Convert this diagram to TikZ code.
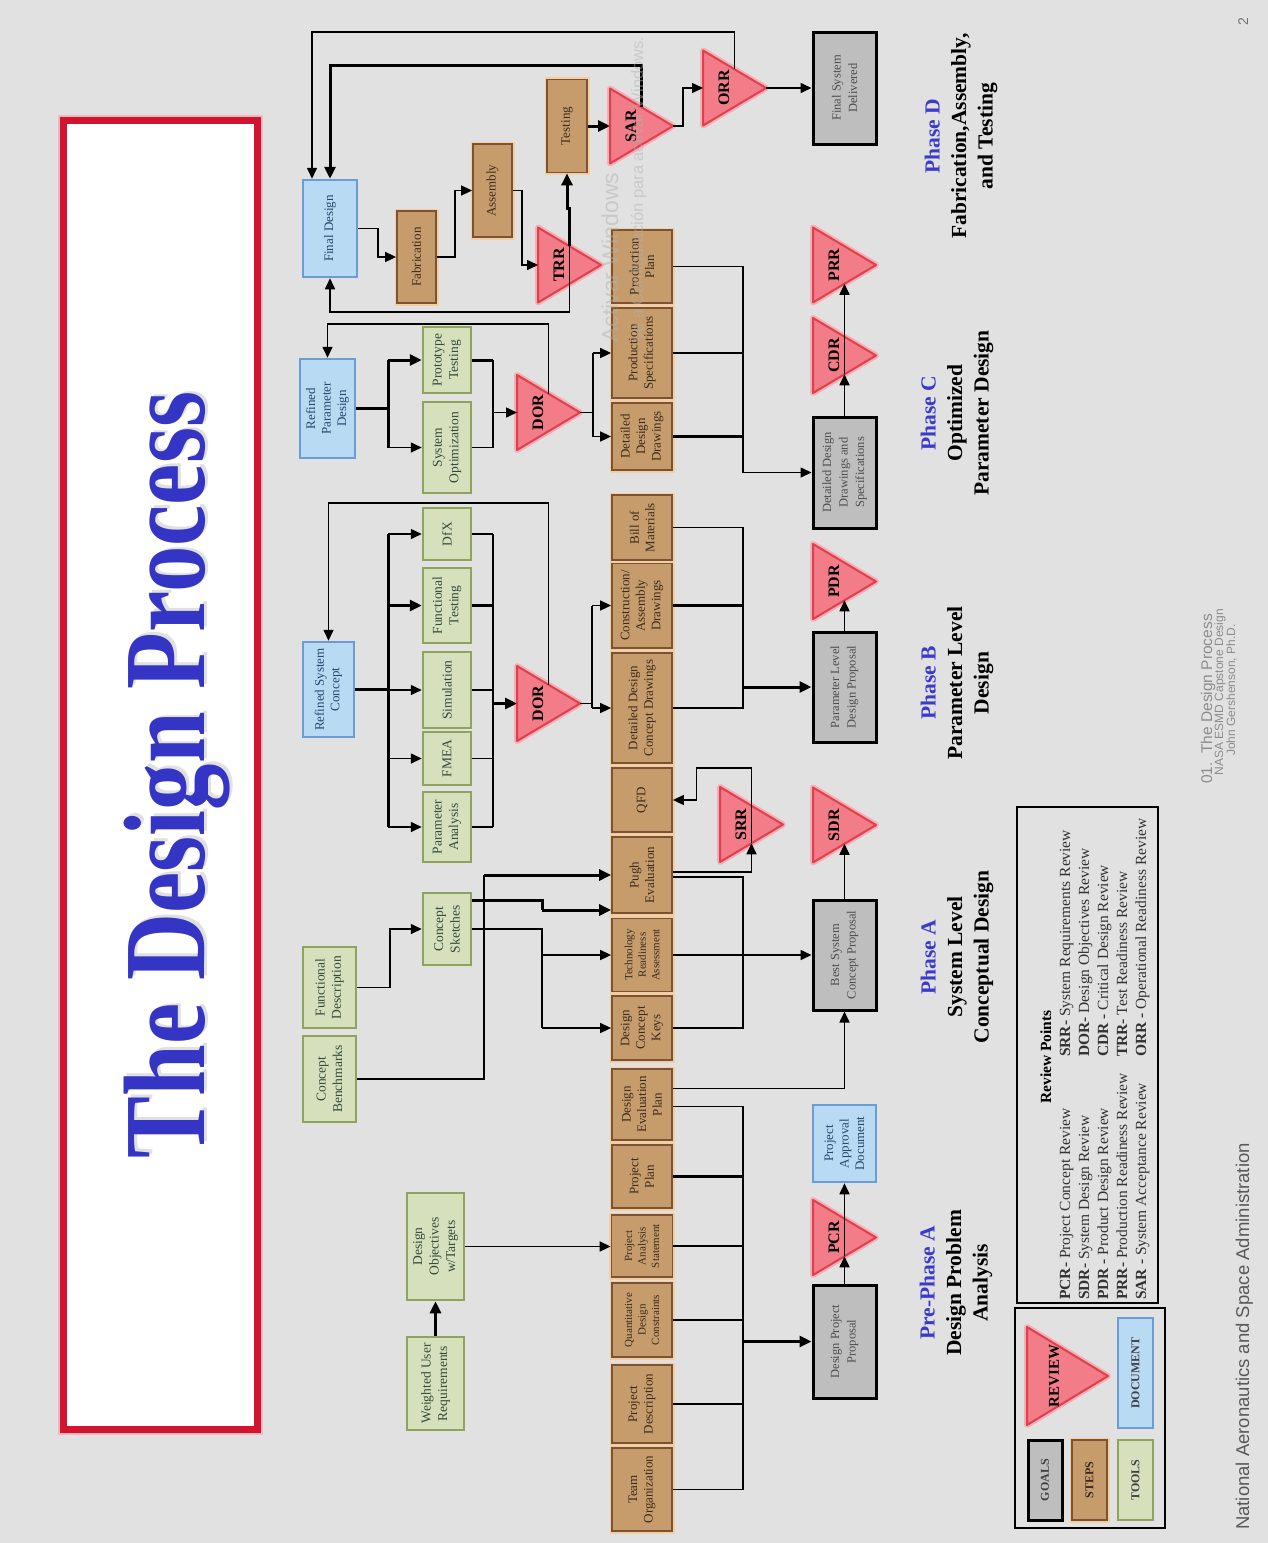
\documentclass[tikz,border=0pt]{standalone}
\usepackage{fontspec}
\setmainfont{Liberation Serif}
\newfontfamily\sansfont{Liberation Sans}
\usepackage{graphicx}
\usetikzlibrary{arrows.meta,calc}

\definecolor{bg}{HTML}{E1E1E1}
\definecolor{stepfill}{HTML}{C69C6D}
\definecolor{stepdraw}{HTML}{7B5330}
\definecolor{stepglow}{HTML}{F2CDA6}
\definecolor{steptext}{HTML}{3A2A1C}
\definecolor{toolfill}{HTML}{D6E0BD}
\definecolor{tooldraw}{HTML}{8FA35C}
\definecolor{tooltext}{HTML}{33493A}
\definecolor{docfill}{HTML}{B8DAF2}
\definecolor{docdraw}{HTML}{6A9DD3}
\definecolor{doctext}{HTML}{25476B}
\definecolor{goalfill}{HTML}{BEBEBE}
\definecolor{goaltext}{HTML}{4D4D4D}
\definecolor{revfill}{HTML}{F27C87}
\definecolor{revdraw}{HTML}{E0404E}
\definecolor{revglow}{HTML}{F7AEB5}
\definecolor{phaseblue}{HTML}{3A3ACC}
\definecolor{titleblue}{HTML}{3535C5}
\definecolor{titlered}{HTML}{D2142E}

\tikzset{
  rbox/.style={rotate=90, inner sep=1pt, align=center},
  dims/.style 2 args={minimum height=#1pt, minimum width=#2pt},
  stepbox/.style={rbox, fill=stepfill, draw=stepdraw, line width=1.8pt,
    preaction={draw=stepglow, line width=5pt}, text=steptext,
    font=\fontsize{13}{15.5}\selectfont},
  stepsmall/.style={stepbox, font=\fontsize{11}{13.5}\selectfont},
  toolbox/.style={rbox, fill=toolfill, draw=tooldraw, line width=2.5pt,
    text=tooltext, font=\fontsize{13.5}{16.5}\selectfont},
  docbox/.style={rbox, fill=docfill, draw=docdraw, line width=2.5pt,
    text=doctext, font=\fontsize{13}{15.5}\selectfont},
  goalbox/.style={rbox, fill=goalfill, draw=black, line width=3pt,
    text=goaltext, font=\fontsize{12.5}{16.5}\selectfont},
  revshape/.style={fill=revfill, draw=revdraw, line width=2pt, line join=round,
    preaction={draw=revglow, line width=6pt, line join=round}},
  revlabel/.style={rotate=90, inner sep=0pt, font=\bfseries\fontsize{16}{16}\selectfont},
  conn/.style={draw=black, line width=1.6pt},
  connw/.style={draw=black, line width=3pt},
  arr/.style={conn, -{Triangle[length=11pt,width=10pt]}},
  arrw/.style={connw, -{Triangle[length=12pt,width=11pt]}},
  phase/.style={rotate=90, align=center, inner sep=0pt,
    font=\bfseries\fontsize{21.5}{26.5}\selectfont},
  revpt/.style={rotate=90, anchor=base west, inner sep=0pt,
    font=\fontsize{15.5}{17}\selectfont, text=black!80},
  legtxt/.style={font=\bfseries\fontsize{12}{12}\selectfont},
}

% review triangle pointing right: name, base x, middle y, label
\newcommand{\reviewtri}[4]{%
  \path[revshape] ({#2},{#3-37.5}) -- ({#2+63},{#3}) -- ({#2},{#3+37.5}) -- cycle;
  \coordinate (#1-in)  at ({#2},{#3});
  \coordinate (#1-out) at ({#2+63},{#3});
  \coordinate (#1-up)  at ({#2+31.5},{#3-18.75});
  \coordinate (#1-dn)  at ({#2+31.5},{#3+18.75});
  \node[revlabel] (#1) at ({#2+21},{#3}) {#4};
}

\begin{document}
\begin{tikzpicture}[x=1pt, y=-1pt]
\useasboundingbox (0,0) rectangle (1268,1543);
\fill[bg] (0,0) rectangle (1268,1543);

% title panel
\draw[titlered, line width=7pt, fill=white,
  preaction={draw=titlered!30, line width=11pt}] (63.5,120) rectangle (257.5,1429);
\node[rotate=90, anchor=base, inner sep=0pt, text=black!40, opacity=0.3,
  font=\bfseries\fontsize{116}{116}\selectfont] (titleshadow) at (207.5,772.5)
  {\scalebox{0.8}[1]{The Design Process}};
\node[rotate=90, anchor=base, inner sep=0pt, text=titleblue,
  font=\bfseries\fontsize{116}{116}\selectfont] (title) at (204,775)
  {\scalebox{0.8}[1]{The Design Process}};

% ---------- steps ----------
\node[stepbox, dims={60}{83}]  (to)    at (642,1489.5) {Team\\Organization};
\node[stepbox, dims={60}{78}]  (pdesc) at (642,1404)   {Project\\Description};
\node[stepsmall, dims={60}{74}] (qdc)  at (642,1320)   {Quantitative\\Design\\Constraints};
\node[stepsmall, dims={61}{62}] (pas)  at (642,1246)   {Project\\Analysis\\Statement};
\node[stepbox, dims={60}{63}]  (ppl)   at (642,1176.5) {Project\\Plan};
\node[stepbox, dims={60}{71}]  (dep)   at (642,1104.5) {Design\\Evaluation\\Plan};
\node[stepbox, dims={60}{64}]  (dck)   at (642,1028)   {Design\\Concept\\Keys};
\node[stepsmall, dims={60}{73}] (tra)  at (642,955)    {Technology\\Readiness\\Assessment};
\node[stepbox, dims={60}{76}]  (pugh)  at (642,875)    {Pugh\\Evaluation};
\node[stepbox, dims={60}{64}]  (qfd)   at (642,800)    {QFD};
\node[stepbox, dims={60}{110}] (ddcd)  at (642,708)    {Detailed Design\\Concept Drawings};
\node[stepbox, dims={60}{85}]  (cad)   at (642,605.5)  {Construction/\\Assembly\\Drawings};
\node[stepbox, dims={60}{65}]  (bom)   at (642,527.5)  {Bill of\\Materials};
\node[stepbox, dims={60}{67}]  (ddd)   at (642,436.5)  {Detailed\\Design\\Drawings};
\node[stepbox, dims={60}{90}]  (ps)    at (642,353)    {Production\\Specifications};
\node[stepbox, dims={60}{73}]  (pp)    at (642,266.5)  {Production\\Plan};
\node[stepbox, dims={39}{92}]  (fab)   at (416.5,257)  {Fabrication};
\node[stepbox, dims={39}{93}]  (asm)   at (492.5,190.5) {Assembly};
\node[stepbox, dims={40}{93}]  (test)  at (567,126)    {Testing};

% ---------- tools ----------
\node[toolbox, dims={57}{93}]  (wur)   at (435.5,1383.5) {Weighted User\\Requirements};
\node[toolbox, dims={57}{107}] (dot)   at (435.5,1246.5) {Design\\Objectives\\w/Targets};
\node[toolbox, dims={53}{86}]  (cb)    at (329.5,1079)   {Concept\\Benchmarks};
\node[toolbox, dims={53}{81}]  (fdesc) at (329.5,987.5)  {Functional\\Description};
\node[toolbox, dims={48}{72}]  (cs)    at (447,929)      {Concept\\Sketches};
\node[toolbox, dims={48}{70}]  (pa)    at (447,827)      {Parameter\\Analysis};
\node[toolbox, dims={48}{53}]  (fmea)  at (447,758.5)    {FMEA};
\node[toolbox, dims={48}{76}]  (sim)   at (447,690)      {Simulation};
\node[toolbox, dims={48}{75}]  (ft)    at (447,605.5)    {Functional\\Testing};
\node[toolbox, dims={48}{52}]  (dfx)   at (447,534)      {DfX};
\node[toolbox, dims={48}{91}]  (so)    at (447,447.5)    {System\\Optimization};
\node[toolbox, dims={48}{66}]  (pt)    at (447,360)      {Prototype\\Testing};

% ---------- documents ----------
\node[docbox, dims={51}{95}] (rsc) at (328.5,689.5) {Refined System\\Concept};
\node[docbox, dims={55}{99}] (rpd) at (327.5,408.5) {Refined\\Parameter\\Design};
\node[docbox, dims={54}{97}] (fd)  at (330,228.5)   {Final Design};
\node[docbox, dims={63}{77}] (pad) at (844.5,1143.5) {Project\\Approval\\Document};

% ---------- goals ----------
\node[goalbox, dims={63}{112}] (fsd)  at (844.5,88)     {Final System\\Delivered};
\node[goalbox, dims={63}{111}] (ddds) at (844.5,472.5)  {Detailed Design\\Drawings and\\Specifications};
\node[goalbox, dims={63}{110}] (pldp) at (844.5,687)    {Parameter Level\\Design Proposal};
\node[goalbox, dims={63}{110}] (bscp) at (844.5,955)    {Best System\\Concept Proposal};
\node[goalbox, dims={63}{113}] (dpp)  at (844.5,1341.5) {Design Project\\Proposal};

% ---------- reviews ----------
\reviewtri{orr}{703}{88}{ORR}
\reviewtri{sar}{610}{126}{SAR}
\reviewtri{trr}{538}{265}{TRR}
\reviewtri{dorc}{517}{412.5}{DOR}
\reviewtri{dorb}{517}{703.5}{DOR}
\reviewtri{srr}{720}{824.5}{SRR}
\reviewtri{prr}{813}{265}{PRR}
\reviewtri{cdr}{813}{355.5}{CDR}
\reviewtri{pdr}{813}{581.5}{PDR}
\reviewtri{sdr}{813}{825}{SDR}
\reviewtri{pcr}{813}{1237.5}{PCR}

% bus lines and junction columns
\coordinate (bus) at (743,0);
\coordinate (tl)  at (388,0);
\coordinate (tr)  at (493,0);
\coordinate (tb)  at (592,0);
\coordinate (tc)  at (593,0);
\coordinate (jcb) at (484,0);
\coordinate (jcs) at (542,0);
\coordinate (pugh-in2)  at ([yshift=-35pt]pugh.north);
\coordinate (cs-out1)   at ([yshift=29pt]cs.south);
\coordinate (pugh-out1) at ([yshift=3pt]pugh.south);
\coordinate (pugh-out2) at ([yshift=-2pt]pugh.south);
\coordinate (dep-out1)  at ([yshift=16pt]dep.south);
\coordinate (dep-out2)  at ([yshift=-2pt]dep.south);
\coordinate (fd-in2)    at ([xshift=-18pt]fd.east);

% ---------- pre-phase A ----------
\draw[arrw] (wur.east) -- (dot.west);
\draw[arr] (dot.south) -- (dot.south -| pas.north);
\draw[conn] (dep-out2) -| (to.south -| bus) -- (to.south);
\draw[connw] (ppl.south) -- (ppl.south -| bus);
\foreach \n in {pas,qdc,pdesc} \draw[conn] (\n.south) -- (\n.south -| bus);
\draw[arrw] (dpp.north -| bus) -- (dpp.north);
\draw[arr] (dpp.east) -- (pcr-dn);
\draw[arr] (pcr-dn) -- (pad.west);

% ---------- phase A ----------
\draw[arr] (fdesc.south) -- ++(33,0) |- (cs.north);
\draw[conn] (cb.south) -| (pugh.north -| jcb);
\draw[arrw] (pugh.north -| jcb) -- (pugh.north);
\draw[connw] (cs-out1) -| (pugh-in2 -| jcs);
\draw[arrw] (pugh-in2 -| jcs) -- (pugh-in2);
\draw[conn] (cs.south) -| (dck.north -| jcs);
\draw[arr] (tra.north -| jcs) -- (tra.north);
\draw[arr] (dck.north -| jcs) -- (dck.north);
\draw[arr] (pugh-out1) -| (srr-dn);
\draw[conn] (pugh-out2) -| (dck.south -| bus) -- (dck.south);
\draw[arr] (tra.south) -- (bscp.north);
\draw[arr] (dep-out1) -| (bscp.west);
\draw[arr] (bscp.east) -- (sdr-dn);
\draw[arr] (srr-dn) -- ++(0,-75) -- ++(-55,0) |- (qfd.south);

% ---------- phase B ----------
\draw[connw] (rsc.south) -- (rsc.south -| tl);
\draw[connw] (dfx.north -| tl) -- (pa.north -| tl);
\foreach \n in {dfx,sim,fmea,pa} \draw[arr] (\n.north -| tl) -- (\n.north);
\draw[arrw] (ft.north -| tl) -- (ft.north);
\foreach \n in {dfx,sim,fmea,pa} \draw[conn] (\n.south) -- (\n.south -| tr);
\draw[connw] (ft.south) -- (ft.south -| tr);
\draw[conn] (dfx.south -| tr) -- (pa.south -| tr);
\draw[arrw] (dorb-in -| tr) -- (dorb-in);
\draw[arr] (dorb-up) -- ++(0,-182) -| (rsc.east);
\draw[conn] (dorb-out) -- (dorb-out -| tb);
\draw[conn] (cad.north -| tb) -- (ddcd.north -| tb);
\draw[arr] (cad.north -| tb) -- (cad.north);
\draw[arr] (ddcd.north -| tb) -- (ddcd.north);
\draw[conn] (bom.south) -| (ddcd.south -| bus) -- (ddcd.south);
\draw[connw] (cad.south) -- (cad.south -| bus);
\draw[arrw] (pldp.north -| bus) -- (pldp.north);
\draw[arr] (pldp.east) -- (pdr-dn);

% ---------- phase C ----------
\draw[connw] (rpd.south) -- (rpd.south -| tl);
\draw[connw] (pt.north -| tl) -- (so.north -| tl);
\draw[arrw] (pt.north -| tl) -- (pt.north);
\draw[arr] (so.north -| tl) -- (so.north);
\draw[connw] (pt.south) -- (pt.south -| tr);
\draw[conn] (so.south) -- (so.south -| tr);
\draw[conn] (pt.south -| tr) -- (so.south -| tr);
\draw[arr] (dorc-in -| tr) -- (dorc-in);
\draw[arr] (dorc-up) -- ++(0,-70) -| (rpd.east);
\draw[conn] (dorc-out) -- (dorc-out -| tc);
\draw[conn] (ps.north -| tc) -- (ddd.north -| tc);
\draw[arr] (ps.north -| tc) -- (ps.north);
\draw[arr] (ddd.north -| tc) -- (ddd.north);
\draw[conn] (pp.south) -| (ddds.north -| bus);
\draw[arr] (ddds.north -| bus) -- (ddds.north);
\draw[conn] (ps.south) -- (ps.south -| bus);
\draw[connw] (ddd.south) -- (ddd.south -| bus);
\draw[arr] (ddds.east) -- (cdr-dn);
\draw[arr] (cdr-dn) -- (prr-dn);

% ---------- phase D ----------
\draw[arr] (fd.south) -- ++(20,0) |- (fab.north);
\draw[arr] (fab.south) -- ++(18,0) |- (asm.north);
\draw[arr] (asm.south) -- ++(9,0) |- (trr-in);
\draw[conn] (trr-dn) -- (trr-up);
\draw[arrw] (trr-up) -- ++(0,-38) -| (test.west);
\draw[arr] (trr-dn) -- ++(0,28) -| (fd.west);
\draw[arrw] (test.south) -- (sar-in);
\draw[arr] (sar-out) -- ++(10,0) |- (orr-in);
\draw[arrw] (sar-up) -- ++(0,-42) -| (fd.east);
\draw[arr] (orr-up) -- ++(0,-37) -| (fd-in2);
\draw[arr] (orr-out) -- (fsd.north);

% ---------- phase captions ----------
\node[phase] (ph0) at (956,1283) {\textcolor{phaseblue}{Pre-Phase A}\\Design Problem\\Analysis};
\node[phase] (pha) at (957,957)  {\textcolor{phaseblue}{Phase A}\\System Level\\Conceptual Design};
\node[phase] (phb) at (957,683)  {\textcolor{phaseblue}{Phase B}\\Parameter Level\\Design};
\node[phase] (phc) at (957,413)  {\textcolor{phaseblue}{Phase C}\\Optimized\\Parameter Design};
\node[phase] (phd) at (961,136)  {\textcolor{phaseblue}{Phase D}\\Fabrication,Assembly,\\and Testing};

% ---------- review point key ----------
\draw[line width=2.5pt] (1017,807) rectangle (1158,1303);
\node[rotate=90, anchor=base, inner sep=0pt, font=\bfseries\fontsize{15.5}{17}\selectfont]
  (rphead) at (1051,1057) {Review Points};
\node[revpt] (k1) at (1070,1300) {\textbf{PCR-} Project Concept Review};
\node[revpt] (k2) at (1089,1300) {\textbf{SDR-} System Design Review};
\node[revpt] (k3) at (1108,1300) {\textbf{PDR -} Product Design Review};
\node[revpt] (k4) at (1127,1300) {\textbf{PRR-} Production Readiness Review};
\node[revpt] (k5) at (1146,1300) {\textbf{SAR -} System Acceptance Review};
\node[revpt] (k6) at (1070,1057) {\textbf{SRR-} System Requirements Review};
\node[revpt] (k7) at (1089,1057) {\textbf{DOR-} Design Objectives Review};
\node[revpt] (k8) at (1108,1057) {\textbf{CDR -} Critical Design Review};
\node[revpt] (k9) at (1127,1057) {\textbf{TRR-} Test Readiness Review};
\node[revpt] (k10) at (1146,1057) {\textbf{ORR -} Operational Readiness Review};

% ---------- legend ----------
\draw[line width=2.5pt] (1015,1308) rectangle (1165,1528);
\node[goalbox, dims={34}{80}, legtxt, text=black!75] (lgoal) at (1045,1480) {GOALS};
\node[stepbox, dims={35}{80}, legtxt] (lstep) at (1089.5,1480) {STEPS};
\node[toolbox, dims={35}{80}, legtxt, text=black!75] (ltool) at (1135.5,1480) {TOOLS};
\node[docbox, dims={35}{110}, legtxt, text=black!75] (ldoc) at (1135.5,1373) {DOCUMENT};
\path[revshape] (1027,1327) -- (1108,1376) -- (1027,1425) -- cycle;
\node[revlabel, font=\bfseries\fontsize{15}{15}\selectfont] (lrev) at (1054,1376) {REVIEW};

% ---------- footer ----------
\node[rotate=90, anchor=base west, inner sep=0pt, text=black!65,
  font=\sansfont\fontsize{18.5}{18.5}\selectfont] (nasa) at (1249,1530)
  {National Aeronautics and Space Administration};
\node[rotate=90, anchor=base, inner sep=0pt, text=black!45,
  font=\sansfont\fontsize{15.5}{15.5}\selectfont] (ft1) at (1212,699) {01.\ \ The Design Process};
\node[rotate=90, anchor=base, inner sep=0pt, text=black!45,
  font=\sansfont\fontsize{12}{12}\selectfont] (ft2) at (1223,692) {NASA ESMD Capstone Design};
\node[rotate=90, anchor=base, inner sep=0pt, text=black!45,
  font=\sansfont\fontsize{12}{12}\selectfont] (ft3) at (1235,690) {John Gershenson, Ph.D.};
\node[rotate=90, anchor=base, inner sep=0pt, text=black!55,
  font=\sansfont\fontsize{14}{14}\selectfont] (pgno) at (1248,22) {2};

% ---------- system watermark ----------
\node[rotate=90, anchor=base west, inner sep=0pt, text=black!30, opacity=0.5,
  font=\sansfont\fontsize{23}{23}\selectfont] (wm1) at (618,343) {Activar Windows};
\node[rotate=90, anchor=base west, inner sep=0pt, text=black!30, opacity=0.5,
  font=\sansfont\fontsize{16.5}{16.5}\selectfont] (wm2) at (643,343)
  {Ve a Configuración para activar Windows.};
\end{tikzpicture}
\end{document}
